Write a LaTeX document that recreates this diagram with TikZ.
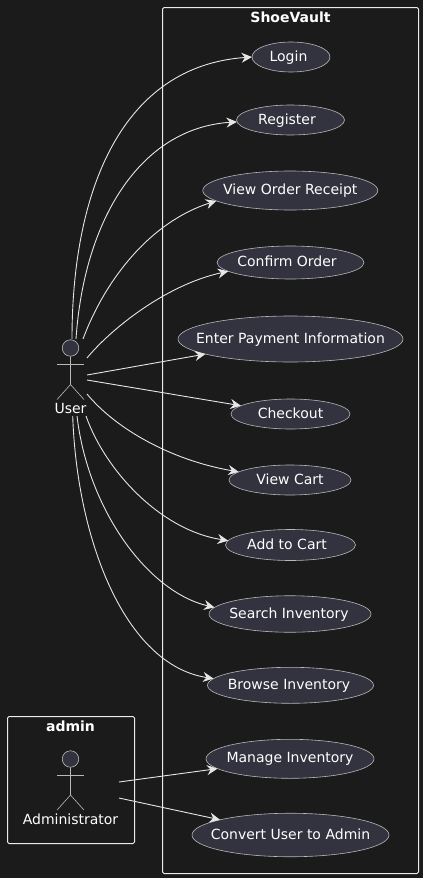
\documentclass[tikz,border=0pt]{standalone}
\usepackage{fontspec}
\setmainfont{DejaVu Sans}
\usetikzlibrary{arrows.meta,shapes.geometric}
\definecolor{bg}{HTML}{1B1B1B}
\definecolor{fillc}{HTML}{333340}
\definecolor{linec}{HTML}{E6E6E6}
\definecolor{thin}{HTML}{B8B8B8}
\newcommand{\ut}[2][0pt]{\makebox[0pt]{\kern#1\smash{\raisebox{-4pt}{#2}}}}
\tikzset{
 x=1pt,y=-1pt,
 uc/.style={ellipse,draw=thin,fill=fillc,line width=.6pt,inner sep=0,outer sep=0,text=white,font=\fontsize{14}{16}\selectfont},
 conn/.style={draw=linec,line width=.9pt,-{Stealth[length=10.5pt,width=10pt,inset=3.5pt]}},
 box/.style={draw=white!92!black,line width=1pt,rounded corners=1.5pt,inner sep=0},
 ttl/.style={text=white,font=\fontsize{14}{16}\selectfont\bfseries,inner sep=0},
 lbl/.style={text=white,font=\fontsize{14}{16}\selectfont,inner sep=0},
 stick/.style={draw=thin,line width=.6pt},
}
\begin{document}
\begin{tikzpicture}
\useasboundingbox[fill=bg] (0,0) rectangle (423,878);
\node[box,minimum width=256pt,minimum height=866pt] (sv) at (290.5,440.5) {};
\node[box,minimum width=127pt,minimum height=127pt] (adm) at (71,780) {};
\node[ttl] (svt) at (290.5,17.5) {ShoeVault};
\node[ttl] (admt) at (70.5,726.5) {admin};
\node[uc,minimum width=78pt,minimum height=30pt] (login) at (291,57) {\ut[-5pt]{Login}};
\node[uc,minimum width=108pt,minimum height=30pt] (reg) at (290.5,120) {\ut[-7pt]{Register}};
\node[uc,minimum width=175pt,minimum height=39pt] (vor) at (290.3,190.5) {\ut{View Order Receipt}};
\node[uc,minimum width=147pt,minimum height=33pt] (co) at (290.5,262.5) {\ut[-7pt]{Confirm Order}};
\node[uc,minimum width=225pt,minimum height=46pt] (epi) at (290.5,339) {\ut{Enter Payment Information}};
\node[uc,minimum width=119pt,minimum height=30pt] (chk) at (290.5,414) {\ut{Checkout}};
\node[uc,minimum width=122pt,minimum height=30pt] (vc) at (290,480) {\ut{View Cart}};
\node[uc,minimum width=130pt,minimum height=31pt] (atc) at (290.5,545) {\ut[-7pt]{Add to Cart}};
\node[uc,minimum width=162pt,minimum height=36.5pt] (si) at (290,614) {\ut[-2pt]{Search Inventory}};
\node[uc,minimum width=166pt,minimum height=36pt] (bi) at (290.5,685.3) {\ut[-3pt]{Browse Inventory}};
\node[uc,minimum width=168pt,minimum height=39pt] (mi) at (290,758.8) {\ut{Manage Inventory}};
\node[uc,minimum width=197pt,minimum height=43.5pt] (cu) at (290.5,835) {\ut{Convert User to Admin}};
% actors
\node[circle,stick,fill=fillc,minimum size=16.5pt,inner sep=0] (uh) at (70.5,348) {};
\draw[stick] (uh.south) -- ++(0,28) coordinate (uw) -- ++(-13.5,15);
\draw[stick] (uw) -- ++(13.5,15);
\draw[stick] (57,364) -- (84,364);
\node[lbl] (ul) at (70.5,408) {User};
\node[circle,stick,fill=fillc,minimum size=16.5pt,inner sep=0] (ah) at (70.5,759) {};
\draw[stick] (ah.south) -- ++(0,27.5) coordinate (aw) -- ++(-13.5,15);
\draw[stick] (aw) -- ++(13.5,15);
\draw[stick] (57,775) -- (84,775);
\node[lbl] (al) at (70.5,819) {Administrator};
% connectors
\coordinate (s1) at (72,339); \coordinate (s2) at (76,339); \coordinate (s3) at (83,339);
\coordinate (s4) at (87,358); \coordinate (s5) at (87,375); \coordinate (s6) at (87,380);
\coordinate (s7) at (87,394); \coordinate (s8) at (86,416); \coordinate (s9) at (77,416); \coordinate (s10) at (72.7,416);
\coordinate (a1) at (119,782); \coordinate (a2) at (119,798);
\draw[conn] (s1) .. controls (72,190) and (122,66) .. (login.west);
\draw[conn] (s2) .. controls (84,220) and (140,128) .. (reg.182);
\draw[conn] (s3) .. controls (105,280) and (150,222) .. (vor.188);
\draw[conn] (s4) .. controls (110,330) and (165,285) .. (co.188);
\draw[conn] (s5) -- (epi);
\draw[conn] (s6) -- (chk);
\draw[conn] (s7) .. controls (115,428) and (170,460) .. (vc.171);
\draw[conn] (s8) .. controls (105,470) and (160,530) .. (atc.176);
\draw[conn] (s9) .. controls (88,510) and (148,592) .. (si.175);
\draw[conn] (s10) .. controls (77,540) and (125,665) .. (bi.175);
\draw[conn] (a1) -- (mi);
\draw[conn] (a2) -- (cu);
\end{tikzpicture}
\end{document}
